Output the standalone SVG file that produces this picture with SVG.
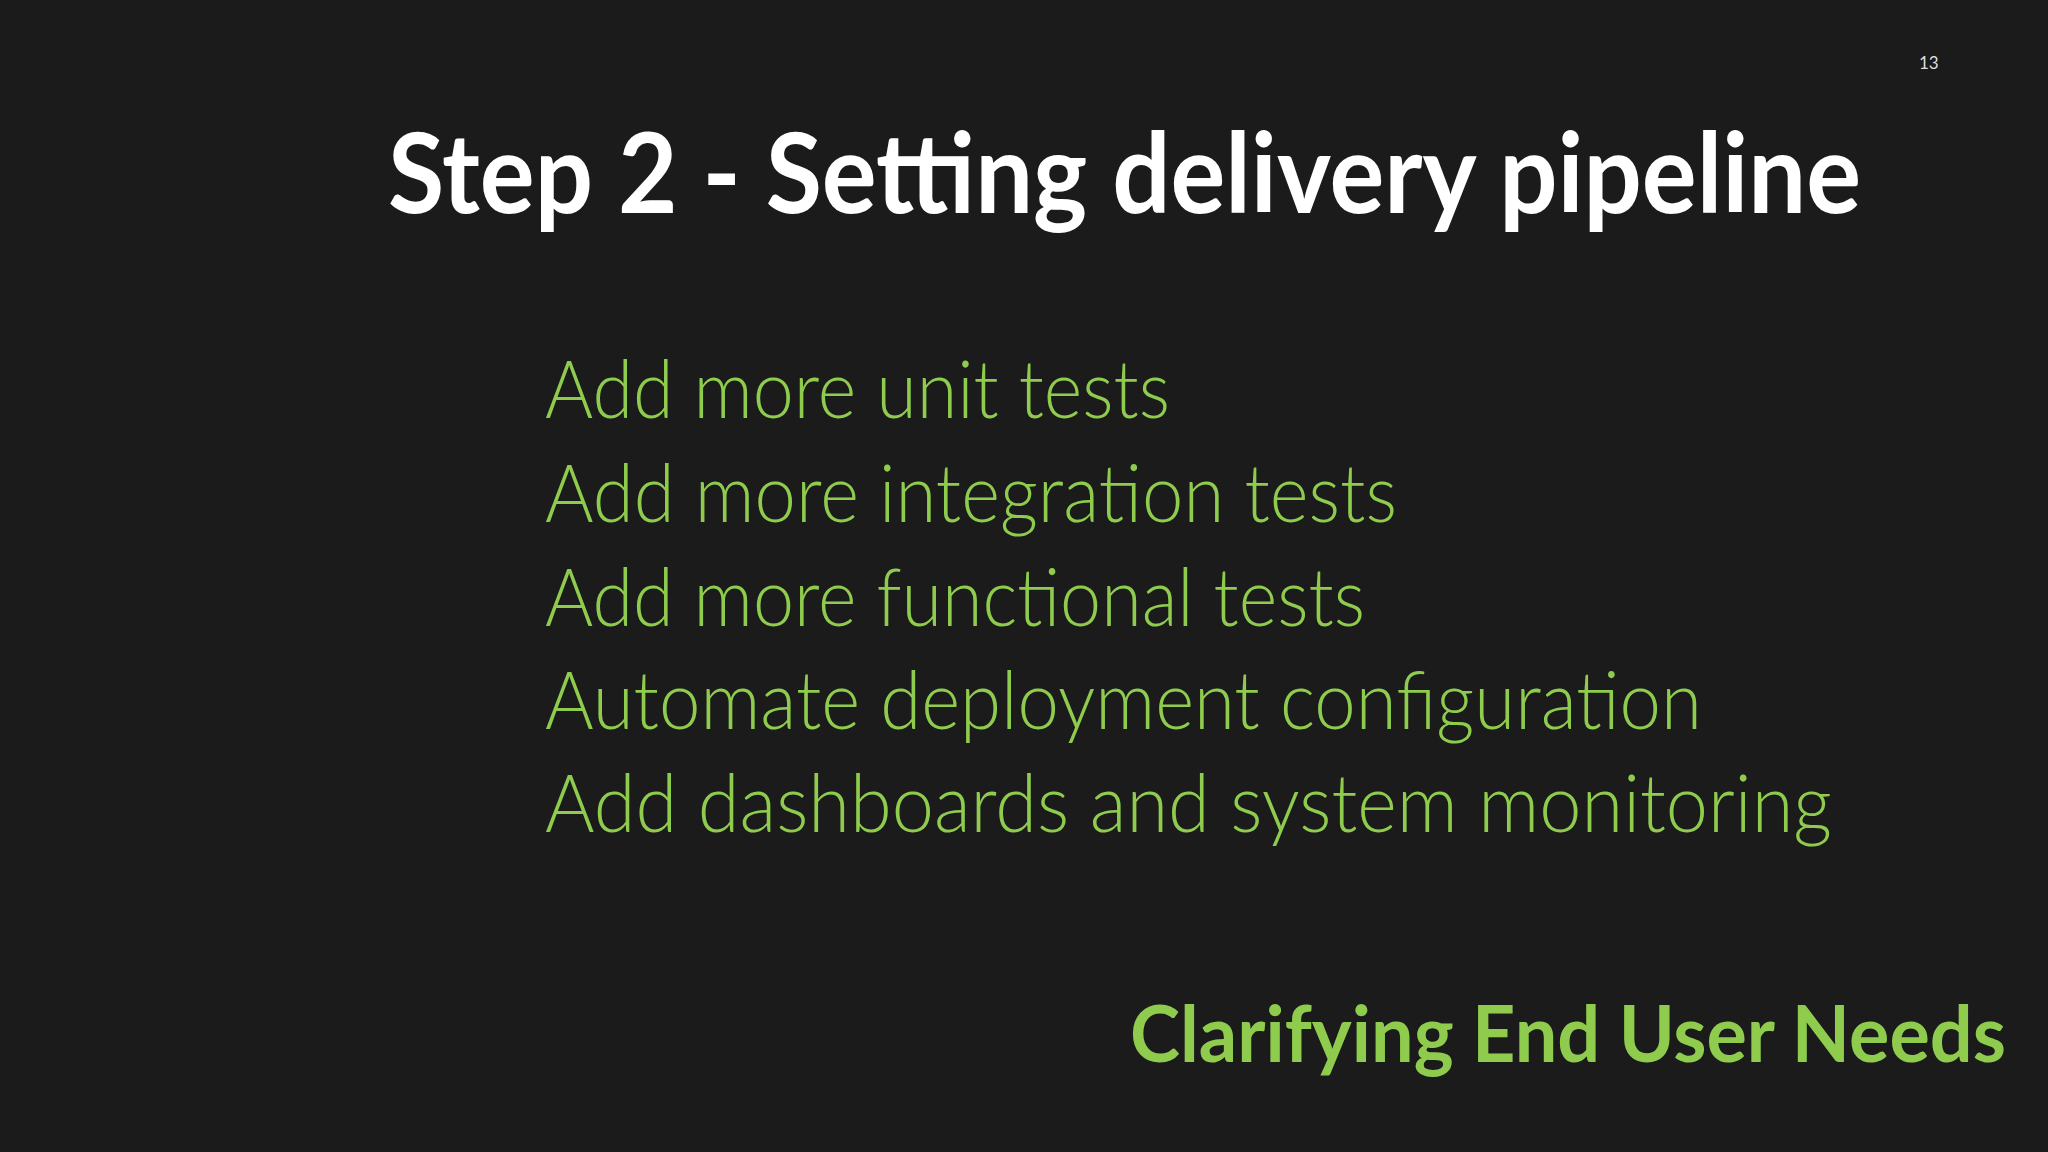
<svg xmlns="http://www.w3.org/2000/svg" width="2048" height="1152" viewBox="0 0 2048 1152">
<style>
.t{font-family:Lato,"Liberation Sans",sans-serif;font-weight:700;fill:#ffffff}
.b{font-family:Lato,"Liberation Sans",sans-serif;font-weight:300;fill:#8fcc4e;font-size:80px}
.f{font-family:Lato,"Liberation Sans",sans-serif;font-weight:700;fill:#8fcc4e;font-size:78px}
</style>
<rect width="2048" height="1152" fill="#1b1b1b"/>
<text x="1919" y="69" font-family="Lato,sans-serif" font-size="17" fill="#dddddd">13</text>
<g id="title"><text class="t" x="388" y="213" font-size="112" textLength="1473" lengthAdjust="spacingAndGlyphs">Step 2 - Setting delivery pipeline</text></g>
<g id="items">
<text class="b" x="545" y="418" textLength="625" lengthAdjust="spacingAndGlyphs">Add more unit tests</text>
<text class="b" x="545" y="522" textLength="852" lengthAdjust="spacingAndGlyphs">Add more integration tests</text>
<text class="b" x="545" y="626" textLength="820" lengthAdjust="spacingAndGlyphs">Add more functional tests</text>
<text class="b" x="545" y="729" textLength="1157" lengthAdjust="spacingAndGlyphs">Automate deployment configuration</text>
<text class="b" x="545" y="832" textLength="1287" lengthAdjust="spacingAndGlyphs">Add dashboards and system monitoring</text>
</g>
<g id="footer"><text class="f" x="1130" y="1062" textLength="876" lengthAdjust="spacingAndGlyphs">Clarifying End User Needs</text></g>
</svg>
